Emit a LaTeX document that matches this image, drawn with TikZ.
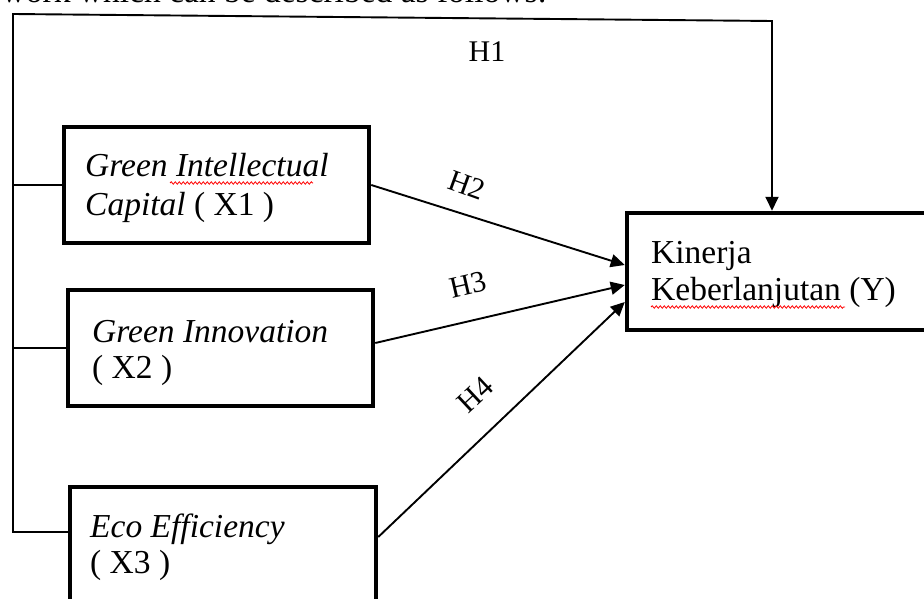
\documentclass[tikz,border=0pt]{standalone}
\usepackage{fontspec}
\setmainfont{Liberation Serif}
\usetikzlibrary{arrows.meta,decorations.pathmorphing}
\begin{document}
\begin{tikzpicture}[x=1pt,y=-1pt,
  box/.style={draw,line width=4.5pt,inner sep=0pt},
  txt/.style={font=\fontsize{33.5}{38}\selectfont,inner sep=0pt,anchor=base west},
  lbl/.style={font=\fontsize{30}{36}\selectfont,inner sep=0pt},
  conn/.style={line width=1.9pt,line join=miter},
  arr/.style={conn,-{Triangle[length=14pt,width=13pt]}},
  wavy/.style={red,line width=0.8pt,decorate,decoration={snake,amplitude=1.2pt,segment length=4pt}}]
\useasboundingbox (0,0) rectangle (924,599);
\clip (0,0) rectangle (924,599);
% partially visible line of text above the figure
\node[txt,anchor=base east] (top) at (547,3) {framework which can be described as follows:};
% boxes
\node[box,minimum width=305pt,minimum height=116pt] (b1) at (216.5,185) {};
\node[box,minimum width=305pt,minimum height=116pt] (b2) at (220.5,348) {};
\node[box,minimum width=306pt,minimum height=116pt] (b3) at (223,545) {};
\node[box,minimum width=320pt,minimum height=117pt] (y) at (787,271.5) {};
% box texts
\node[txt] (t1a) at (85,177) {\itshape Green Intellectual};
\node[txt] (t1b) at (85,215) {\textit{Capital} ( X1 )};
\node[txt] (t2a) at (92,342) {\itshape Green Innovation};
\node[txt] (t2b) at (92,378) {( X2 )};
\node[txt] (t3a) at (90,537) {\itshape Eco Efficiency};
\node[txt] (t3b) at (90,573) {( X3 )};
\node[txt] (ya) at (651,263) {Kinerja};
\node[txt] (yb) at (651,300) {Keberlanjutan (Y)};
% spell-check underlines
\draw[wavy] (170,183) -- (313,183);
\draw[wavy] (651,307) -- (845,307);
% connectors
\coordinate (tl) at (13,14);
\coordinate (tr) at (772,21);
\coordinate (bl) at (13,532);
\coordinate (s3) at (b3.west |- bl);
\draw[arr] (s3) -- (bl) -- (tl) -- (tr) -- (tr |- y.north);
\draw[conn] (b1.west) -- (b1.west -| tl);
\draw[conn] (b2.west) -- (b2.west -| tl);
\draw[arr] (b1.east) -- ([yshift=6.5pt]y.west);
\draw[arr] ([yshift=5pt]b2.east) -- ([yshift=-13.5pt]y.west);
\draw[arr] ([yshift=8pt]b3.east) -- ([yshift=-30.5pt]y.west);
% labels
\node[lbl] (h1) at (487,52) {H1};
\node[lbl,rotate=-20] (h2) at (467,185) {H2};
\node[lbl,rotate=13] (h3) at (468,285) {H3};
\node[lbl,rotate=43] (h4) at (475,395) {H4};
\end{tikzpicture}
\end{document}
